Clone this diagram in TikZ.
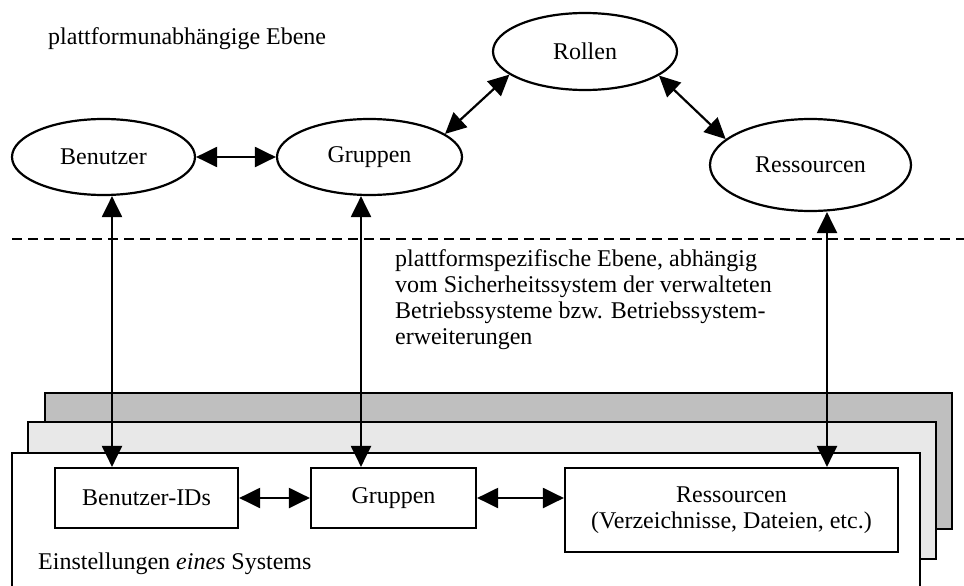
\documentclass[tikz,border=0pt]{standalone}
\usepackage{fontspec}
\setmainfont{Liberation Serif}
\usetikzlibrary{shapes.geometric,arrows.meta}
\begin{document}
\begin{tikzpicture}[x=1pt,y=-1pt,
  every node/.style={font=\fontsize{24}{26}\selectfont, inner sep=0pt},
  oval/.style={ellipse, draw, line width=2.2pt, fill=white},
  box/.style={rectangle, draw, line width=2.2pt, fill=white, align=center},
  arr/.style={line width=2.2pt, {Triangle[length=21pt,width=20pt]}-{Triangle[length=21pt,width=20pt]}},
  layer/.style={draw, line width=2.2pt}]
\clip (0,0) rectangle (964,586);

% platform independent level
\node[anchor=base west] (titleA) at (48,45) {plattformunabhängige Ebene};
\node[oval, minimum width=183pt, minimum height=76pt] (Benutzer) at (103.5,157) {Benutzer};
\node[oval, minimum width=185pt, minimum height=76pt] (Gruppen) at (369.5,157) {Gruppen};
\node[oval, minimum width=184pt, minimum height=77pt] (Rollen) at (585,51.5) {Rollen};
\node[oval, minimum width=201pt, minimum height=92pt] (Ressourcen) at (810.5,165) {Ressourcen};

\draw[arr] (Benutzer) -- (Gruppen);
\draw[arr] (Gruppen.17.6) -- (Rollen.197.4);
\draw[arr] (Rollen.342.6) -- (Ressourcen.163.7);

% separator
\draw[line width=2pt, dash pattern=on 10pt off 6pt] (12,239) coordinate (sepL) -- (964,239) coordinate (sepR);

\node[anchor=north west, align=left] (descr) at (395,249)
  {plattformspezifische Ebene, abhängig\\
   vom Sicherheitssystem der verwalteten\\
   Betriebssysteme bzw. Betriebssystem-\\
   erweiterungen};

% stacked system layers
\filldraw[layer, fill=black!25] (45,393) rectangle (952,529);
\filldraw[layer, fill=black!9] (28,422) rectangle (936,559);
\fill[white] (12,453) rectangle (920,600);
\draw[layer] (12,600) -- (12,453) -- (920,453) -- (920,600);

\node[box, minimum width=183pt, minimum height=60pt] (BIDs) at (146.5,498) {Benutzer-IDs};
\node[box, minimum width=165pt, minimum height=60pt] (GBox) at (393.5,498) {Gruppen};
\node[box, minimum width=333pt, minimum height=84pt] (RBox) at (731.5,510)
  {Ressourcen\\(Verzeichnisse, Dateien, etc.)};

\draw[arr] (BIDs) -- (GBox);
\draw[arr] (GBox.east) -- (GBox.east -| RBox.west);

\node[anchor=base west] (sysLabel) at (38,569) {Einstellungen \emph{eines} Systems};

% vertical links between levels
\draw[arr] ([xshift=8.5pt]Benutzer.south) -- ([xshift=-34.5pt]BIDs.north);
\draw[arr] ([xshift=-8.5pt]Gruppen.south) -- ([xshift=-32.5pt]GBox.north);
\draw[arr] ([xshift=16.5pt]Ressourcen.south) -- ([xshift=95.5pt]RBox.north);
\end{tikzpicture}
\end{document}
